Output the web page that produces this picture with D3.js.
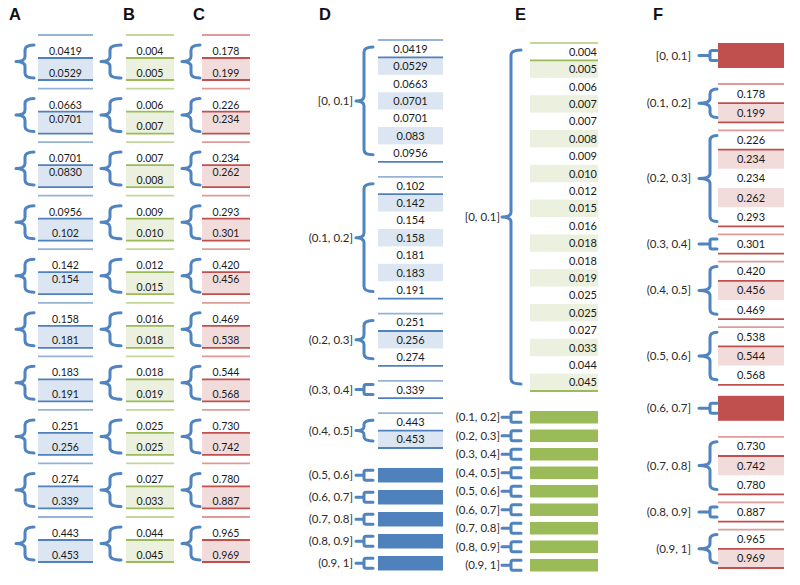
<!DOCTYPE html>
<html><head><meta charset="utf-8">
<script src="https://cdn.jsdelivr.net/npm/d3@7"></script>
<style>body{margin:0;background:#fff;} svg{display:block;}</style>
</head><body>
<svg id="chart" width="800" height="585"></svg>
<script>
// ---------------- data ----------------
const panelLetters = ["A", "B", "C", "D", "E", "F"];
const aValues = [0.0419, 0.0529, 0.0663, 0.0701, 0.0701, 0.0830, 0.0956, 0.102, 0.142, 0.154,
                 0.158, 0.181, 0.183, 0.191, 0.251, 0.256, 0.274, 0.339, 0.443, 0.453];
const bValues = [0.004, 0.005, 0.006, 0.007, 0.007, 0.008, 0.009, 0.010, 0.012, 0.015,
                 0.016, 0.018, 0.018, 0.019, 0.025, 0.025, 0.027, 0.033, 0.044, 0.045];
const cValues = [0.178, 0.199, 0.226, 0.234, 0.234, 0.262, 0.293, 0.301, 0.420, 0.456,
                 0.469, 0.538, 0.544, 0.568, 0.730, 0.742, 0.780, 0.887, 0.965, 0.969];
const binLabels = ["[0, 0.1]", "(0.1, 0.2]", "(0.2, 0.3]", "(0.3, 0.4]", "(0.4, 0.5]",
                   "(0.5, 0.6]", "(0.6, 0.7]", "(0.7, 0.8]", "(0.8, 0.9]", "(0.9, 1]"];
const binEdges = [0, 0.1, 0.2, 0.3, 0.4, 0.5, 0.6, 0.7, 0.8, 0.9, 1.0];

// ---------------- styles ----------------
const blue  = {light: "#dce6f2", line: "#4f81bd", top: "#95b3d7", bar: "#4f81bd"};
const green = {light: "#ebf1de", line: "#9bbb59", top: "#c3d69b", bar: "#9bbb59"};
const red   = {light: "#f2dcdb", line: "#c0504d", top: "#dd9c9a", bar: "#c0504d"};
const braceColor = "#4f84c0";
const numFont = "Lato, 'Open Sans', sans-serif";

const svg = d3.select("#chart");

function curly(tip, v, end, y1, y2) {
  const ym = (y1 + y2) / 2, r = Math.min(5, (y2 - y1) / 5);
  return `M${end},${y1} Q${v},${y1} ${v},${y1 + r} L${v},${ym - r} Q${v},${ym} ${tip},${ym}` +
         ` Q${v},${ym} ${v},${ym + r} L${v},${y2 - r} Q${v},${y2} ${end},${y2}`;
}
function small(tip, v, end, ym) {
  const h = 5;
  return `M${end},${ym - h} L${v + 2},${ym - h} Q${v},${ym - h} ${v},${ym - h + 2} L${v},${ym + h - 2}` +
         ` Q${v},${ym + h} ${v + 2},${ym + h} L${end},${ym + h} M${tip},${ym} L${v},${ym}`;
}

// ---------------- panel titles ----------------
const titleX = [9, 123, 193, 319, 515, 653];
svg.selectAll("text.title").data(panelLetters).join("text")
  .attr("class", "title")
  .attr("x", (d, i) => titleX[i]).attr("y", 19.5)
  .attr("font-family", "'Liberation Sans', Arial, sans-serif")
  .attr("font-weight", "bold").attr("font-size", 16.5).attr("fill", "#111")
  .text(d => d);

// ---------------- A, B, C: pairs ----------------
const pairPanels = [
  {values: aValues, fmt: d3.format(".3r"), x0: 38, x1: 93, tip: 16, v: 25, end: 34, col: blue, compact: [1, 2, 4]},
  {values: bValues, fmt: d3.format(".3f"), x0: 126, x1: 174, tip: 101, v: 110, end: 121, col: green, compact: []},
  {values: cValues, fmt: d3.format(".3f"), x0: 202, x1: 250, tip: 182, v: 191, end: 200, col: red, compact: [1, 2, 4]}
];
const yGroup = d3.scaleLinear().domain([0, 9]).range([35, 517]);
const groupH = 45, sepOff = 23;

pairPanels.forEach(p => {
  const pairs = d3.range(p.values.length / 2).map(i => [p.values[2 * i], p.values[2 * i + 1]]);
  const cx = (p.x0 + p.x1) / 2;
  const g = svg.append("g");
  const grp = g.selectAll("g").data(pairs).join("g")
    .attr("transform", (d, i) => `translate(0,${yGroup(i)})`);
  grp.append("rect").attr("x", p.x0).attr("y", sepOff).attr("width", p.x1 - p.x0)
    .attr("height", groupH - sepOff).attr("fill", p.col.light);
  grp.append("line").attr("x1", p.x0).attr("x2", p.x1).attr("y1", 0).attr("y2", 0)
    .attr("stroke", p.col.top).attr("stroke-width", 1.8);
  [sepOff, groupH].forEach(yy => grp.append("line").attr("x1", p.x0).attr("x2", p.x1)
    .attr("y1", yy).attr("y2", yy).attr("stroke", p.col.line).attr("stroke-width", 1.8));
  grp.append("text").attr("x", cx).attr("y", 20).attr("text-anchor", "middle")
    .attr("font-family", numFont).attr("font-size", 10.5).attr("fill", "#1a1a1a")
    .text(d => p.fmt(d[0]));
  grp.append("text").attr("x", cx).attr("y", (d, i) => p.compact.includes(i) ? 34 : 41.5)
    .attr("text-anchor", "middle")
    .attr("font-family", numFont).attr("font-size", 10.5).attr("fill", "#1a1a1a")
    .text(d => p.fmt(d[1]));
  grp.append("path").attr("d", curly(p.tip, p.v, p.end, 10, 43))
    .attr("fill", "none").attr("stroke", braceColor).attr("stroke-width", 3)
    .attr("stroke-linecap", "round").attr("stroke-linejoin", "round");
});

// ---------------- D, E, F: binned ----------------
function binOf(v) { return Math.max(0, d3.bisectLeft(binEdges, v) - 1); }

const binPanels = [
  {values: aValues, fmt: d3.format(".3~r"), top: 40, row: 17.4, barH: 14.5,
   gap: {gg: 15, gb: 20, bb: 7.5, bg: 15}, x0: 378, x1: 443, anchor: "middle", tx: 410.5,
   labelX: 353, tip: 356, v: 364, end: 373, col: blue, inset: 7},
  {values: bValues, fmt: d3.format(".3f"), top: 43, row: 17.4, barH: 12.5,
   gap: {gg: 15, gb: 20, bb: 6, bg: 15}, x0: 530, x1: 598, anchor: "end", tx: 597,
   labelX: 500, tip: 502, v: 511, end: 521, col: green, inset: 7},
  {values: cValues, fmt: d3.format(".3f"), top: 43, row: 19.2, barH: 25,
   gap: {gg: 8, gb: 11, bb: 8, bg: 16}, x0: 718, x1: 784, anchor: "middle", tx: 751,
   labelX: 691, tip: 699, v: 710, end: 717, col: red, inset: 5}
];

binPanels.forEach(p => {
  const bins = binLabels.map(l => ({label: l, vals: []}));
  p.values.forEach(v => bins[binOf(v)].vals.push(v));
  let acc = 0, prev = null;
  const items = bins.map(b => {
    const kind = b.vals.length ? "g" : "b";
    if (prev) acc += p.gap[prev + kind];
    const h = kind === "g" ? b.vals.length * p.row : p.barH;
    const it = {label: b.label, vals: b.vals, kind, u0: acc, u1: acc + h};
    acc += h; prev = kind;
    return it;
  });
  const y = d3.scaleLinear().domain([0, acc]).range([p.top, p.top + acc]);
  const g = svg.append("g");

  items.forEach(it => {
    const y0 = y(it.u0), y1 = y(it.u1), ym = (y0 + y1) / 2;
    if (it.kind === "b") {
      g.append("rect").attr("x", p.x0).attr("y", y0).attr("width", p.x1 - p.x0)
        .attr("height", y1 - y0).attr("fill", p.col.bar);
    } else {
      const rowY = d3.scaleBand().domain(d3.range(it.vals.length)).range([y0, y1]);
      g.selectAll(null).data(it.vals.map((v, i) => ({v, i})).filter(d => d.i % 2 === 1)).join("rect")
        .attr("x", p.x0).attr("y", d => rowY(d.i)).attr("width", p.x1 - p.x0)
        .attr("height", rowY.bandwidth()).attr("fill", p.col.light);
      const lines = [{y: y0, c: p.col.top}];
      if (it.vals.length > 1) lines.push({y: rowY(1), c: p.col.line});
      lines.push({y: y1, c: p.col.line});
      g.selectAll(null).data(lines).join("line")
        .attr("x1", p.x0).attr("x2", p.x1).attr("y1", d => d.y).attr("y2", d => d.y)
        .attr("stroke", d => d.c).attr("stroke-width", 1.8);
      g.selectAll(null).data(it.vals.map((v, i) => ({v, i}))).join("text")
        .attr("x", p.tx).attr("y", d => rowY(d.i) + rowY.bandwidth() / 2 + 4)
        .attr("text-anchor", p.anchor).attr("font-family", numFont).attr("font-size", 11)
        .attr("fill", "#1a1a1a").text(d => p.fmt(d.v));
    }
    const path = (it.kind === "g" && it.vals.length > 1)
      ? curly(p.tip, p.v, p.end, y0 + p.inset, y1 - p.inset)
      : small(p.tip, p.v, p.end, ym);
    g.append("path").attr("d", path).attr("fill", "none").attr("stroke", braceColor)
      .attr("stroke-width", 3).attr("stroke-linecap", "round").attr("stroke-linejoin", "round");
    g.append("text").attr("x", p.labelX).attr("y", ym + 4).attr("text-anchor", "end")
      .attr("font-family", numFont).attr("font-size", 11.5).attr("fill", "#2a2a2a")
      .text(it.label);
  });
});
</script>
</body></html>
